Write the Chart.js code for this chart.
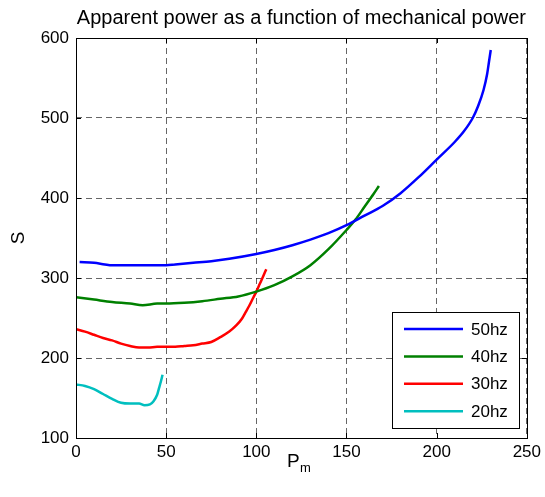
<!DOCTYPE html>
<html>
<head>
<meta charset="utf-8">
<script src="https://cdn.jsdelivr.net/npm/chart.js@4.4.0/dist/chart.umd.min.js"></script>
<style>
  html, body { margin: 0; padding: 0; background: #fff; }
  #wrap { width: 545px; height: 497px; }
</style>
</head>
<body>
<div id="wrap"><canvas id="lineChart" width="545" height="497"></canvas></div>
<script>
// values: P_m (x) and S (y) for each frequency
const seriesNames = ["50hz", "40hz", "30hz", "20hz"];
const seriesColors = ["#0000ff", "#008000", "#ff0000", "#00bfbf"];

const pm50 = [2, 10, 16, 20, 30, 40, 50, 55, 65, 75, 85, 100, 110, 120, 130, 140, 150, 160, 170, 180, 190, 200, 210, 215, 220, 223, 226, 228, 229, 230];
const s50  = [320, 319, 317, 316, 316, 316, 316, 317, 319, 321, 324, 330, 335, 341, 348, 356, 366, 378, 390, 406, 426, 448, 470, 483, 500, 515, 535, 555, 570, 585];

const pm40 = [0, 10, 20, 30, 37, 45, 50, 60, 70, 80, 90, 100, 110, 120, 130, 140, 150, 155, 160, 165, 168];
const s40  = [276, 273, 270, 268, 266, 268, 268, 269, 271, 274, 277, 283, 291, 302, 316, 336, 360, 373, 389, 405, 415];

const pm30 = [0, 5, 10, 15, 20, 25, 30, 35, 40, 45, 50, 55, 60, 65, 70, 75, 80, 85, 89, 92, 94, 96, 98, 100, 102, 104, 105.5];
const s30  = [236, 233, 229, 225, 222, 218, 215, 213, 213, 214, 214, 214, 215, 216, 218, 220, 226, 233, 241, 249, 257, 265, 274, 283, 293, 303, 311];

const pm20 = [0, 5, 10, 15, 20, 25, 30, 35, 38, 41, 43, 45, 46, 47, 48];
const s20  = [167, 165, 161, 155, 149, 144, 143, 143, 141, 142, 146, 154, 162, 170, 179];

const xTicks = [0, 50, 100, 150, 200, 250];
const yTicks = [100, 200, 300, 400, 500, 600];
const titleText = "Apparent power as a function of mechanical power";

function toPoints(xs, ys) {
    return xs.map((x, i) => ({ x: x, y: ys[i] }));
}

const allX = [pm50, pm40, pm30, pm20];
const allY = [s50, s40, s30, s20];
const FONT = "'Liberation Sans', Arial, sans-serif";

// frame, inward tick marks, labels and the boxed legend, MATLAB style
const matlabLook = {
    id: "matlabLook",
    afterDraw(chart) {
        const ctx = chart.ctx;
        const a = chart.chartArea;
        const xs = chart.scales.x, ys = chart.scales.y;
        ctx.save();
        ctx.strokeStyle = "#000";
        ctx.lineWidth = 1;
        ctx.strokeRect(Math.round(a.left) + 0.5, Math.round(a.top) + 0.5,
            Math.round(a.right - a.left), Math.round(a.bottom - a.top));
        ctx.beginPath();
        xTicks.forEach(v => {
            const px = Math.round(xs.getPixelForValue(v)) + 0.5;
            ctx.moveTo(px, a.bottom); ctx.lineTo(px, a.bottom - 5);
            ctx.moveTo(px, a.top); ctx.lineTo(px, a.top + 5);
        });
        yTicks.forEach(v => {
            const py = Math.round(ys.getPixelForValue(v)) + 0.5;
            ctx.moveTo(a.left, py); ctx.lineTo(a.left + 5, py);
            ctx.moveTo(a.right, py); ctx.lineTo(a.right - 5, py);
        });
        ctx.stroke();

        // title
        ctx.fillStyle = "#000";
        ctx.font = "20px " + FONT;
        ctx.textAlign = "center";
        ctx.textBaseline = "alphabetic";
        ctx.fillText(titleText, (a.left + a.right) / 2, 24);

        // axis labels
        ctx.font = "19px " + FONT;
        ctx.textAlign = "left";
        ctx.fillText("P", 287, 467);
        ctx.font = "13px " + FONT;
        ctx.fillText("m", 300, 472);
        ctx.save();
        ctx.translate(24, (a.top + a.bottom) / 2);
        ctx.rotate(-Math.PI / 2);
        ctx.font = "19px " + FONT;
        ctx.textAlign = "center";
        ctx.fillText("S", 0, 0);
        ctx.restore();

        // legend
        const lx = 392.5, ly = 312.5, lw = 127, lh = 116;
        ctx.fillStyle = "#fff";
        ctx.fillRect(lx, ly, lw, lh);
        ctx.strokeStyle = "#000";
        ctx.lineWidth = 1;
        ctx.strokeRect(lx, ly, lw, lh);
        ctx.font = "17px " + FONT;
        ctx.textBaseline = "middle";
        ctx.textAlign = "left";
        chart.data.datasets.forEach((ds, i) => {
            const y = 329 + i * 27.4;
            ctx.strokeStyle = ds.borderColor;
            ctx.lineWidth = 2.5;
            ctx.beginPath();
            ctx.moveTo(404, y); ctx.lineTo(463, y);
            ctx.stroke();
            ctx.fillStyle = "#000";
            ctx.fillText(ds.label, 471, y + 1);
        });
        ctx.restore();
    }
};

let myChart;

function printChart() {
    const canvas = document.getElementById("lineChart");
    const ctx = canvas.getContext("2d");
    myChart = new Chart(ctx, {
        type: "scatter",
        data: {
            datasets: seriesNames.map((name, i) => ({
                label: name,
                data: toPoints(allX[i], allY[i]),
                showLine: true,
                borderColor: seriesColors[i],
                backgroundColor: seriesColors[i],
                borderWidth: 2.5,
                pointRadius: 0,
                cubicInterpolationMode: "monotone",
                fill: false
            }))
        },
        options: {
            responsive: false,
            animation: false,
            layout: { padding: { left: 0, right: 16, top: 38, bottom: 0 } },
            plugins: {
                legend: { display: false },
                tooltip: { enabled: false }
            },
            scales: {
                x: {
                    type: "linear",
                    min: 0,
                    max: 250,
                    afterBuildTicks: s => { s.ticks = xTicks.map(v => ({ value: v })); },
                    afterFit: s => { s.height = 59; },
                    ticks: {
                        color: "#000",
                        padding: 4,
                        maxRotation: 0,
                        font: { family: FONT, size: 17 }
                    },
                    grid: { color: "rgba(0,0,0,0.6)", drawTicks: false },
                    border: { display: false, dash: [6, 4] }
                },
                y: {
                    type: "linear",
                    min: 100,
                    max: 600,
                    afterBuildTicks: s => { s.ticks = yTicks.map(v => ({ value: v })); },
                    afterFit: s => { s.width = 76; },
                    ticks: {
                        color: "#000",
                        padding: 7,
                        font: { family: FONT, size: 17 }
                    },
                    grid: { color: "rgba(0,0,0,0.6)", drawTicks: false },
                    border: { display: false, dash: [6, 4] }
                }
            }
        },
        plugins: [matlabLook]
    });
}

printChart();
</script>
</body>
</html>
